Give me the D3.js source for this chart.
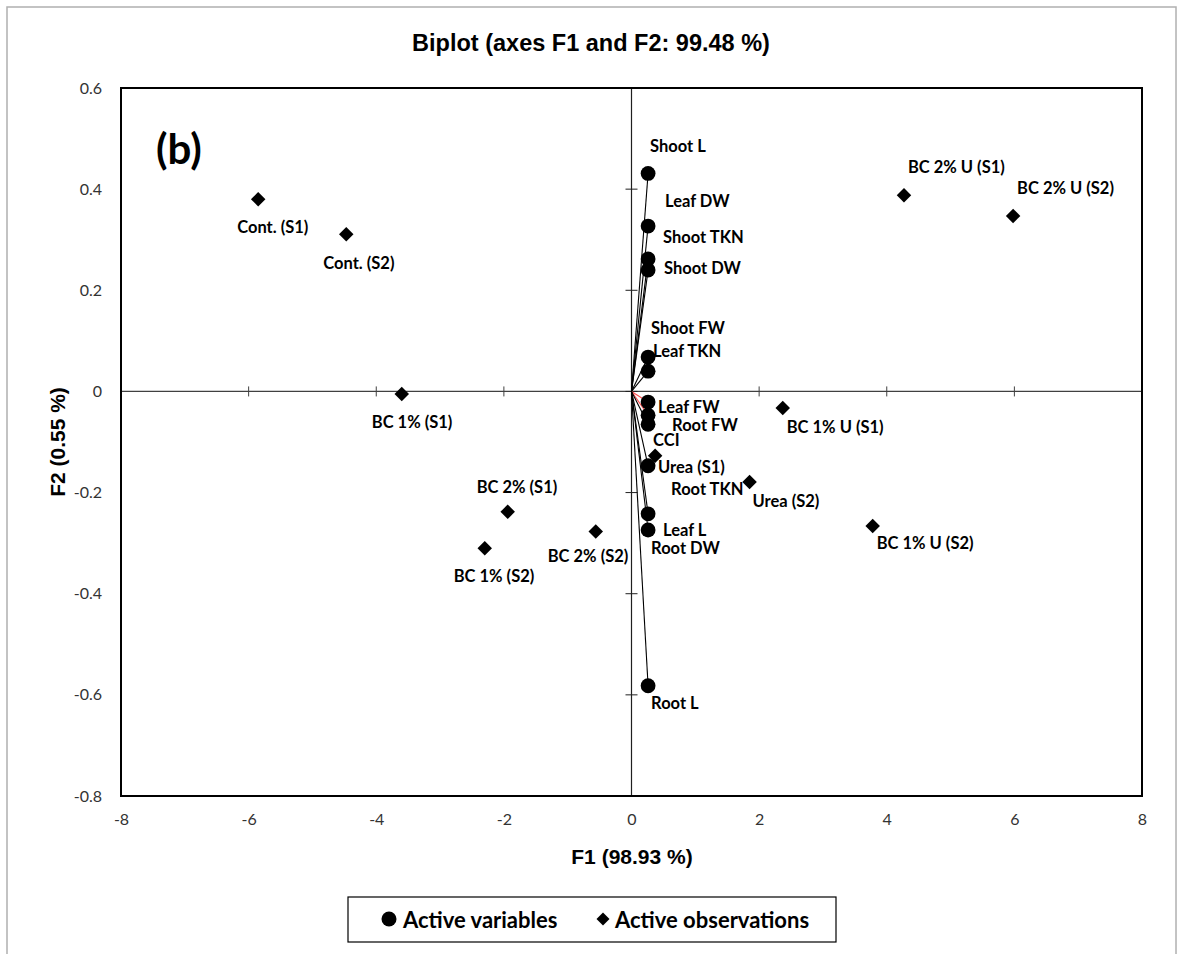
<!DOCTYPE html>
<html><head><meta charset="utf-8">
<script src="https://cdn.jsdelivr.net/npm/d3@7"></script>
<style>
html,body{margin:0;padding:0;background:#fff;}
svg{display:block;}
</style></head>
<body>
<script>
// ---- data ----
const varNames = ["Shoot L","Leaf DW","Shoot TKN","Shoot DW","Shoot FW","Leaf TKN","Leaf FW","Root FW","CCI","Root TKN","Leaf L","Root DW","Root L"];
const varF1 = [0.26,0.26,0.26,0.26,0.26,0.26,0.26,0.26,0.26,0.26,0.26,0.26,0.26];
const varF2 = [0.431,0.327,0.262,0.240,0.068,0.040,-0.021,-0.047,-0.065,-0.147,-0.242,-0.274,-0.582];
const obsNames = ["Cont. (S1)","Cont. (S2)","BC 1% (S1)","BC 2% (S1)","BC 1% (S2)","BC 2% (S2)","Urea (S1)","Urea (S2)","BC 1% U (S1)","BC 1% U (S2)","BC 2% U (S1)","BC 2% U (S2)"];
const obsF1 = [-5.85,-4.47,-3.60,-1.94,-2.30,-0.56,0.37,1.85,2.37,3.78,4.27,5.98];
const obsF2 = [0.380,0.311,-0.005,-0.238,-0.310,-0.277,-0.127,-0.179,-0.033,-0.266,0.388,0.347];
const xTicks = [-8,-6,-4,-2,0,2,4,6,8];
const yTicks = [0.6,0.4,0.2,0,-0.2,-0.4,-0.6,-0.8];
const redVars = ["Leaf FW","Root FW"];

// ---- layout (label offsets in px: left edge, vertical centre) ----
const varLabelOff = [[2,-27],[17,-25],[15,-22],[16,-2],[3,-29],[5,-20],[10,5],[24,10],[5,16],[23,23],[15,16],[3,18],[3,17]];
const obsLabelOff = [[-21,28],[-23,29],[-30,28],[-31,-25],[-31,28],[-48,24],[3,11],[3,19],[4,19],[4,17],[4,-28],[4,-28]];

const W = 1178, H = 954;
const L = 121, R = 1142, T = 88, B = 796;
const svg = d3.select("body").append("svg").attr("width", W).attr("height", H);

// outer border
svg.append("rect").attr("x",7).attr("y",7).attr("width",1169).attr("height",960)
  .attr("fill","none").attr("stroke","#b0b0b0").attr("stroke-width",1.5);

const x = d3.scaleLinear().domain([-8,8]).range([L,R]);
const y = d3.scaleLinear().domain([-0.8,0.6]).range([B,T]);

const labFont = "Lato, 'Open Sans', sans-serif";
const titleFont = "'Liberation Sans', Arial, sans-serif";
const hy = s => s.replace("\u2212","-");

// title
svg.append("text").attr("x",591).attr("y",43).attr("text-anchor","middle").attr("dominant-baseline","central")
  .attr("font-family",titleFont).attr("font-weight","bold").attr("font-size",23.5).attr("fill","#000")
  .text("Biplot (axes F1 and F2: 99.48 %)");

// zero axes
svg.append("line").attr("x1",L).attr("x2",R).attr("y1",y(0)).attr("y2",y(0)).attr("stroke","#404040").attr("stroke-width",1.2);
svg.append("line").attr("x1",x(0)).attr("x2",x(0)).attr("y1",T).attr("y2",B).attr("stroke","#202020").attr("stroke-width",1.2);

// cross ticks on zero axes
svg.append("g").selectAll("line").data(xTicks).join("line")
  .attr("x1",d=>x(d)).attr("x2",d=>x(d)).attr("y1",y(0)-5).attr("y2",y(0)+5)
  .attr("stroke","#404040").attr("stroke-width",1);
svg.append("g").selectAll("line").data(yTicks).join("line")
  .attr("x1",x(0)-6).attr("x2",x(0)+6).attr("y1",d=>y(d)).attr("y2",d=>y(d))
  .attr("stroke","#202020").attr("stroke-width",1);

// tick labels via axes
const xAxis = svg.append("g").attr("transform",`translate(0,${B})`)
  .call(d3.axisBottom(x).tickValues(xTicks).tickSize(0).tickPadding(18).tickFormat(d=>hy(d3.format("d")(d))));
const yAxis = svg.append("g").attr("transform",`translate(${L},0)`)
  .call(d3.axisLeft(y).tickValues(yTicks).tickSize(0).tickPadding(19).tickFormat(d=> d===0 ? "0" : hy(d3.format(".1f")(d))));
[xAxis,yAxis].forEach(a=>{
  a.select(".domain").remove();
  a.selectAll("text").attr("font-family",labFont).attr("font-size",16).attr("fill","#333");
});

// vectors
const vars = varNames.map((n,i)=>({n, f1:varF1[i], f2:varF2[i], off:varLabelOff[i]}));
const obs = obsNames.map((n,i)=>({n, f1:obsF1[i], f2:obsF2[i], off:obsLabelOff[i]}));

svg.append("g").selectAll("line").data(vars).join("line")
  .attr("x1",x(0)).attr("y1",y(0)).attr("x2",d=>x(d.f1)).attr("y2",d=>y(d.f2))
  .attr("stroke",d=>redVars.includes(d.n)?"#ff5050":"#000").attr("stroke-width",1.1);

// circles
svg.append("g").selectAll("circle").data(vars).join("circle")
  .attr("cx",d=>x(d.f1)).attr("cy",d=>y(d.f2)).attr("r",7.4).attr("fill","#000");

// diamonds
const diamond = d3.symbol().type(d3.symbolSquare).size(105);
svg.append("g").selectAll("path").data(obs).join("path")
  .attr("d",diamond).attr("fill","#000")
  .attr("transform",d=>`translate(${x(d.f1)},${y(d.f2)}) rotate(45)`);

// labels
const labs = svg.append("g").attr("font-family",labFont).attr("font-weight","bold").attr("font-size",16.5).attr("fill","#000");
labs.selectAll("text.v").data(vars).join("text").attr("class","v")
  .attr("x",d=>x(d.f1)+d.off[0]).attr("y",d=>y(d.f2)+d.off[1]).attr("dominant-baseline","central").text(d=>d.n);
labs.selectAll("text.o").data(obs).join("text").attr("class","o")
  .attr("x",d=>x(d.f1)+d.off[0]).attr("y",d=>y(d.f2)+d.off[1]).attr("dominant-baseline","central").text(d=>d.n);

// (b)
svg.append("text").attr("x",156).attr("y",148).attr("dominant-baseline","central")
  .attr("font-family",labFont).attr("font-weight","bold").attr("font-size",42).text("(b)");

// plot frame
svg.append("rect").attr("x",L).attr("y",T).attr("width",R-L).attr("height",B-T)
  .attr("fill","none").attr("stroke","#000").attr("stroke-width",2);

// axis titles
svg.append("text").attr("x",632).attr("y",856).attr("text-anchor","middle").attr("dominant-baseline","central")
  .attr("font-family",titleFont).attr("font-weight","bold").attr("font-size",21).text("F1 (98.93 %)");
svg.append("text").attr("transform","translate(57,442) rotate(-90)").attr("text-anchor","middle").attr("dominant-baseline","central")
  .attr("font-family",titleFont).attr("font-weight","bold").attr("font-size",21).text("F2 (0.55 %)");

// legend
const lg = svg.append("g");
lg.append("rect").attr("x",348).attr("y",897).attr("width",488).attr("height",45)
  .attr("fill","#fff").attr("stroke","#000").attr("stroke-width",1.2);
lg.append("circle").attr("cx",389).attr("cy",919).attr("r",7.5).attr("fill","#000");
lg.append("text").attr("x",403).attr("y",919).attr("dominant-baseline","central")
  .attr("font-family",labFont).attr("font-weight","bold").attr("font-size",22).text("Active variables");
lg.append("path").attr("d",d3.symbol().type(d3.symbolSquare).size(85)).attr("fill","#000")
  .attr("transform","translate(603,919) rotate(45)");
lg.append("text").attr("x",615).attr("y",919).attr("dominant-baseline","central")
  .attr("font-family",labFont).attr("font-weight","bold").attr("font-size",22).text("Active observations");
</script>
</body></html>
